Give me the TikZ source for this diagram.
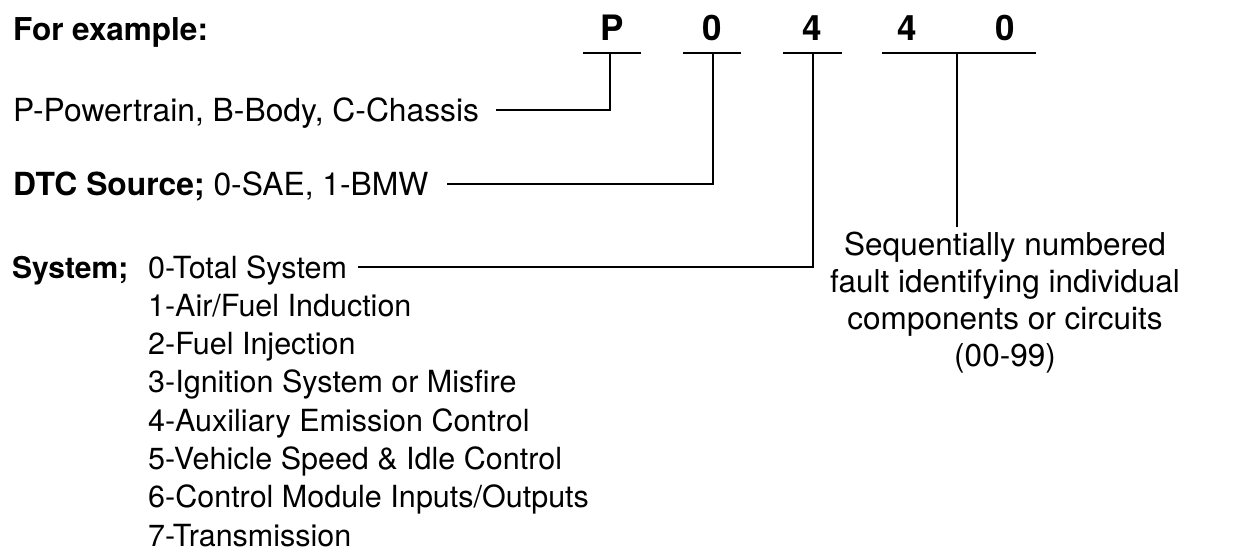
\documentclass[tikz,border=0pt]{standalone}
\usepackage{fontspec}
\setmainfont{TeX Gyre Heros}
\begin{document}
\begin{tikzpicture}[x=1pt,y=-1pt,
  txt/.style={inner sep=0pt,anchor=base west,font=\fontsize{30.5}{38}\selectfont},
  upper/.style={inner sep=0pt,anchor=base west,font=\fontsize{31.8}{38}\selectfont},
  ctxt/.style={inner sep=0pt,anchor=base,font=\fontsize{31.5}{37}\selectfont},
  head/.style={inner sep=0pt,anchor=base west,font=\fontsize{31.5}{38}\selectfont\bfseries},
  syshead/.style={inner sep=0pt,anchor=base west,font=\fontsize{30}{38}\selectfont\bfseries},
  digit/.style={inner sep=0pt,anchor=base,font=\fontsize{35}{40}\selectfont\bfseries},
  conn/.style={line width=2.3pt,line cap=butt}]
\useasboundingbox (0,0) rectangle (1248,552);
% header
\node[head] (ex) at (13,40) {For example:};
\node[digit] (dP) at (612,40) {P};
\node[digit] (d0) at (712,40) {0};
\node[digit] (d4) at (812,40) {4};
\node[digit] (d4b) at (907,40) {4};
\node[digit] (d0b) at (1005,40) {0};
% underline ends
\coordinate (uP1) at (583,53); \coordinate (uP2) at (641,53);
\coordinate (u01) at (683,53); \coordinate (u02) at (741,53);
\coordinate (u41) at (783,53); \coordinate (u42) at (842,53);
\coordinate (u51) at (882,53); \coordinate (u52) at (1036,53);
\draw[conn] (uP1) -- (uP2);
\draw[conn] (u01) -- (u02);
\draw[conn] (u41) -- (u42);
\draw[conn] (u51) -- (u52);
\coordinate (tP) at (610,53);
\coordinate (t0) at (713,53);
\coordinate (t4) at (813,53);
\coordinate (t5) at (957,53);
% labels
\node[upper] (pbc) at (13,121) {P-Powertrain, B-Body, C-Chassis};
\coordinate (cP) at (496,110);
\draw[conn] (cP) -| (tP);
\node[upper] (dtc) at (13,195) {\bfseries DTC Source;\mdseries\ 0-SAE, 1-BMW};
\coordinate (c0) at (447,184);
\draw[conn] (c0) -| (t0);
\node[syshead] (sys) at (12,278) {System;};
\node[txt] (s0) at (148,278) {0-Total System};
\node[txt] (s1) at (148,316.3) {1-Air/Fuel Induction};
\node[txt] (s2) at (148,354.6) {2-Fuel Injection};
\node[txt] (s3) at (148,392.9) {3-Ignition System or Misfire};
\node[txt] (s4) at (148,431.2) {4-Auxiliary Emission Control};
\node[txt] (s5) at (148,469.5) {5-Vehicle Speed \& Idle Control};
\node[txt] (s6) at (148,507.8) {6-Control Module Inputs/Outputs};
\node[txt] (s7) at (148,546.1) {7-Transmission};
\coordinate (c4) at (358,267);
\draw[conn] (c4) -| (t4);
% right block
\coordinate (c5) at (957,227);
\draw[conn] (t5) -- (c5);
\node[ctxt] (r1) at (1005,255) {Sequentially numbered};
\node[ctxt] (r2) at (1005,292) {fault identifying individual};
\node[ctxt] (r3) at (1005,329) {components or circuits};
\node[ctxt] (r4) at (1005,366) {(00-99)};
\end{tikzpicture}
\end{document}
